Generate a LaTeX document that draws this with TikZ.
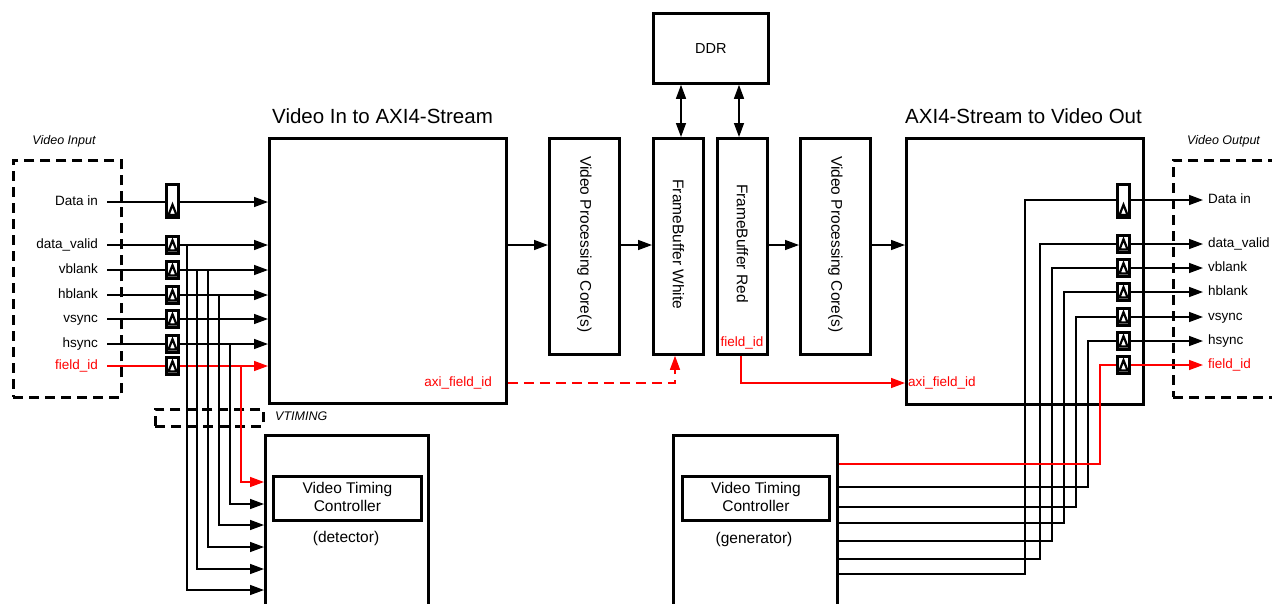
\documentclass[tikz,border=0pt]{standalone}
\usepackage{fontspec}
\setmainfont{Liberation Sans}
\usetikzlibrary{arrows.meta}
\begin{document}
\begin{tikzpicture}[x=1pt,y=-1pt,
  blk/.style={draw, line width=2.8pt, inner sep=0pt, anchor=north west},
  dbox/.style={draw, line width=2.8pt, dash pattern=on 10pt off 6pt, inner sep=0pt, anchor=north west},
  sig/.style={line width=1.4pt},
  tip/.tip={Triangle[length=14pt,width=10pt]},
  arr/.style={sig, -tip},
  dbl/.style={sig, tip-tip},
  reg/.style={draw, line width=3pt, fill=white, minimum width=12.5pt, minimum height=16.5pt, inner sep=0pt,
    path picture={\draw[line width=2.2pt, fill=white, line join=miter]
      ([xshift=-4pt,yshift=2.8pt]path picture bounding box.south) --
      ([xshift=4pt,yshift=2.8pt]path picture bounding box.south) --
      ([yshift=13pt]path picture bounding box.south) -- cycle;}},
  lbl/.style={font=\fontsize{13.5}{16}\selectfont, inner sep=0pt, text height=9.5pt, text depth=3pt},
  ttl/.style={font=\fontsize{20.5}{24}\selectfont, inner sep=0pt, anchor=base west},
  mid/.style={font=\fontsize{15.5}{18}\selectfont, inner sep=0pt, align=center},
  ital/.style={font=\itshape\fontsize{12.5}{15}\selectfont, inner sep=0pt},
]
\useasboundingbox (0,0) rectangle (1272,603);

% ---------- main blocks ----------
\node[blk, minimum width=237pt, minimum height=265pt] (vin) at (268,137) {};
\node[blk, minimum width=237pt, minimum height=266pt] (vout) at (905,137) {};
\node[ttl] at (272,123) {Video In to AXI4-Stream};
\node[ttl] at (905,123) {AXI4-Stream to Video Out};

\node[blk, minimum width=70pt, minimum height=216pt] (vpc1) at (548,137) {};
\node[blk, minimum width=50pt, minimum height=216pt] (fbw) at (652,137) {};
\node[blk, minimum width=50pt, minimum height=216pt] (fbr) at (716,137) {};
\node[blk, minimum width=70pt, minimum height=216pt] (vpc2) at (799,137) {};
\node[mid, rotate=-90] at ([yshift=2pt]vpc1.center) {Video Processing Core(s)};
\node[mid, rotate=-90] at ([yshift=2pt]fbw.center) {FrameBuffer White};
\node[mid, rotate=-90] at ([yshift=3pt]fbr.center) {FrameBuffer Red};
\node[mid, rotate=-90] at ([yshift=2pt]vpc2.center) {Video Processing Core(s)};

\node[blk, minimum width=115pt, minimum height=70pt, font=\fontsize{14.5}{17}\selectfont] (ddr) at (652,12) {DDR};
\draw[dbl] (ddr.south -| 681,0) -- (fbw.north -| 681,0);
\draw[dbl] (ddr.south -| 739,0) -- (fbr.north -| 739,0);

\draw[arr] (vin.east |- 0,245) -- (vpc1.west |- 0,245);
\draw[arr] (vpc1.east |- 0,245) -- (fbw.west |- 0,245);
\draw[arr] (fbr.east |- 0,245) -- (vpc2.west |- 0,245);
\draw[arr] (vpc2.east |- 0,245) -- (vout.west |- 0,245);

% field id path
\node[lbl, red, anchor=east] (axiL) at (492,383) {axi\_field\_id};
\node[lbl, red, anchor=west] (axiR) at (908,383) {axi\_field\_id};
\node[lbl, red] (fidR) at (742,343) {field\_id};
\draw[arr, red, dash pattern=on 10pt off 6pt] (vin.east |- axiL.east) -| (fbw.south -| 675,0);
\draw[arr, red] (fbr.south -| 741,0) |- (vout.west |- axiR.west);

% ---------- input side ----------
\node[dbox, minimum width=108pt, minimum height=237pt] (inbox) at (12,159) {};
\node[ital] at (64,141) {Video Input};
\node[dbox, minimum width=108pt, minimum height=17pt] (vtbox) at (154,408) {};
\node[ital, anchor=west] at (275,416) {VTIMING};

\node[lbl, anchor=east] (lD) at (98,202) {Data in};
\node[lbl, anchor=east] (lDV) at (98,245) {data\_valid};
\node[lbl, anchor=east] (lVB) at (98,270) {vblank};
\node[lbl, anchor=east] (lHB) at (98,295) {hblank};
\node[lbl, anchor=east] (lVS) at (98,319) {vsync};
\node[lbl, anchor=east] (lHS) at (98,344) {hsync};
\node[lbl, anchor=east, red] (lFI) at (98,366) {field\_id};

\node[reg, minimum height=33.5pt] (rD) at (172.5,201) {};
\node[reg] (rDV) at (172.5,245) {};
\node[reg] (rVB) at (172.5,270) {};
\node[reg] (rHB) at (172.5,295) {};
\node[reg] (rVS) at (172.5,319) {};
\node[reg] (rHS) at (172.5,344) {};
\node[reg] (rFI) at (172.5,366) {};

\foreach \n in {D,DV,VB,HB,VS,HS} {
  \draw[sig] ([xshift=9pt]l\n.east) -- (r\n.west |- l\n.east);
  \draw[arr] (r\n.east |- l\n.east) -- (l\n.east -| vin.west);
}
\draw[sig, red] ([xshift=9pt]lFI.east) -- (rFI.west);
\draw[arr, red] (rFI.east) -- (rFI.east -| vin.west);

% detector
\node[blk, minimum width=163pt, minimum height=250pt] (det) at (264,434) {};
\node[blk, minimum width=148pt, minimum height=44pt] (vtcd) at (272,475) {};
\node[mid] at ([yshift=1pt]vtcd.center) {Video Timing\\Controller};
\node[mid] at (346,538) {(detector)};

\draw[arr] (rDV.east -| 187,0) |- (det.west |- 0,590);
\draw[arr] (rVB.east -| 197,0) |- (det.west |- 0,569);
\draw[arr] (rVB.east -| 208,0) |- (det.west |- 0,547);
\draw[arr] (rHB.east -| 219,0) |- (det.west |- 0,525);
\draw[arr] (rHS.east -| 230,0) |- (det.west |- 0,504);
\draw[arr, red] (rFI.east -| 241,0) |- (det.west |- 0,482);

% ---------- output side ----------
\node[dbox, minimum width=150pt, minimum height=237pt] (outbox) at (1172,159) {};
\node[ital, anchor=west] at (1187,141) {Video Output};

\node[reg, minimum height=33.5pt] (oD) at (1123.5,201) {};
\node[reg] (oDV) at (1123.5,244) {};
\node[reg] (oVB) at (1123.5,268) {};
\node[reg] (oHB) at (1123.5,292) {};
\node[reg] (oVS) at (1123.5,317) {};
\node[reg] (oHS) at (1123.5,341) {};
\node[reg] (oFI) at (1123.5,365) {};

\node[lbl, anchor=west] (tD) at (1208,200) {Data in};
\node[lbl, anchor=west] (tDV) at (1208,244) {data\_valid};
\node[lbl, anchor=west] (tVB) at (1208,268) {vblank};
\node[lbl, anchor=west] (tHB) at (1208,292) {hblank};
\node[lbl, anchor=west] (tVS) at (1208,317) {vsync};
\node[lbl, anchor=west] (tHS) at (1208,341) {hsync};
\node[lbl, anchor=west, red] (tFI) at (1208,365) {field\_id};

\foreach \n in {D,DV,VB,HB,VS,HS} {
  \draw[arr] (o\n.east |- t\n.west) -- ([xshift=-5pt]t\n.west);
}
\draw[arr, red] (oFI.east) -- ([xshift=-5pt]tFI.west);

% generator
\node[blk, minimum width=164pt, minimum height=250pt] (gen) at (672,434) {};
\node[blk, minimum width=147pt, minimum height=44pt] (vtcg) at (681,475) {};
\node[mid] at ([yshift=1pt]vtcg.center) {Video Timing\\Controller};
\node[mid] at (754,539) {(generator)};

\draw[sig] (oD.west |- tD.west) -| (1025,574) -- (gen.east |- 0,574);
\draw[sig] (oDV.west) -| (1040,559) -- (gen.east |- 0,559);
\draw[sig] (oVB.west) -| (1052,541) -- (gen.east |- 0,541);
\draw[sig] (oHB.west) -| (1064,523) -- (gen.east |- 0,523);
\draw[sig] (oVS.west) -| (1076,507) -- (gen.east |- 0,507);
\draw[sig] (oHS.west) -| (1088,487) -- (gen.east |- 0,487);
\draw[sig, red] (oFI.west) -| (1100,464) -- (gen.east |- 0,464);
\end{tikzpicture}
\end{document}
